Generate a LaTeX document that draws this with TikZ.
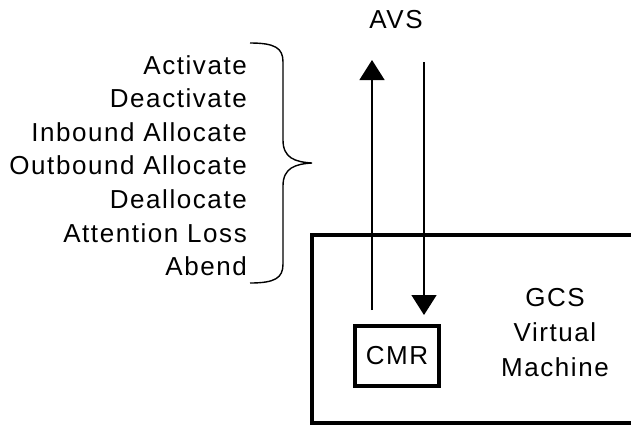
\documentclass[tikz,border=0pt]{standalone}
\usepackage{fontspec}
\setmainfont[LetterSpace=6]{Liberation Sans}
\usetikzlibrary{arrows.meta}
\begin{document}
\begin{tikzpicture}[x=1pt,y=-1pt,
  lbl/.style={font=\fontsize{26}{33.6}\selectfont, inner sep=0pt},
  thin/.style={line width=1.4pt},
  flow/.style={thin,-{Triangle[length=20pt,width=25pt]}},
  thick box/.style={draw, line width=4pt, inner sep=0pt}]
\useasboundingbox (0,0) rectangle (631,424);
\clip (0,0) rectangle (631,424);
% list of events
\node[lbl, align=right, anchor=base east] (list) at (247,275.6)
  {Activate\\Deactivate\\Inbound Allocate\\Outbound Allocate\\Deallocate\\Attention Loss\\Abend};
% brace
\coordinate (bt) at (250,43);
\coordinate (bb) at (250,283);
\coordinate (tip) at (312,163);
\draw[thin] (bt) .. controls (275,43) and (283,48) .. (283,62)
  -- (283,140) .. controls (283,158) and (295,162) .. (tip)
  .. controls (295,164) and (283,168) .. (283,186)
  -- (283,264) .. controls (283,278) and (275,283) .. (bb);
% AVS
\node[lbl] (avs) at (396,20) {AVS};
% GCS virtual machine box
\node[thick box, anchor=north west, minimum width=360, minimum height=188] (vm) at (310,233) {};
\node[lbl, align=center, font=\fontsize{26}{35}\selectfont] (gcs) at (555,333) {GCS\\Virtual\\Machine};
% CMR
\node[draw, line width=3.5pt, minimum width=84, minimum height=60, lbl] (cmr) at (397,356) {CMR};
% arrows
\coordinate (upstart) at (372,310);
\coordinate (upend) at (372,60);
\coordinate (dnstart) at (424,62);
\coordinate (dnend) at (424,315);
\draw[flow] (upstart) -- (upend);
\draw[flow] (dnstart) -- (dnend);
\end{tikzpicture}
\end{document}
